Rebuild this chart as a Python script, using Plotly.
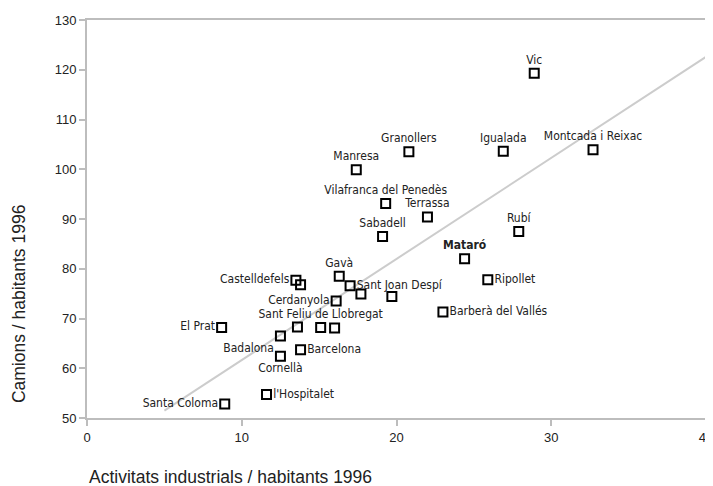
import plotly.graph_objects as go

# towns: activitats industrials / habitants vs camions / habitants (1996)
towns = ["Vic", "Granollers", "Igualada", "Montcada i Reixac", "Manresa",
         "Vilafranca del Penedès", "Terrassa", "Sabadell", "Rubí", "Mataró",
         "Ripollet", "Barberà del Vallés", "Sant Joan Despí", "Gavà",
         "Castelldefels", "", "Cerdanyola", "", "", "El Prat",
         "", "Sant Feliu de Llobregat", "", "Badalona", "Barcelona",
         "Cornellà", "Santa Coloma", "l'Hospitalet"]
activitats = [28.9, 20.8, 26.9, 32.7, 17.4,
              19.3, 22.0, 19.1, 27.9, 24.4,
              25.9, 23.0, 17.0, 16.3,
              13.5, 13.8, 16.1, 17.7, 19.7, 8.7,
              13.6, 15.1, 16.0, 12.5, 13.8,
              12.5, 8.9, 11.6]
camions = [119.3, 103.5, 103.6, 103.9, 99.9,
           93.1, 90.4, 86.5, 87.5, 82.0,
           77.8, 71.3, 76.6, 78.5,
           77.7, 76.8, 73.5, 74.9, 74.4, 68.2,
           68.3, 68.2, 68.1, 66.5, 63.7,
           62.4, 52.8, 54.7]
label_pos = ["top center", "top center", "top center", "top center", "top center",
             "top center", "top center", "top center", "top center", "top center",
             "middle right", "middle right", "middle right", "top center",
             "middle left", "top center", "middle left", "top center", "top center", "middle left",
             "top center", "top center", "top center", "bottom left", "middle right",
             "bottom center", "middle left", "middle right"]

# tendency line
trend_x = [5, 40]
trend_y = [51.5, 122.6]

labels = ["<b>%s</b>" % t if t == "Mataró" else t for t in towns]

label_font = "DejaVu Sans Condensed, Liberation Sans, sans-serif"
axis_grey = "#bdbdbd"

fig = go.Figure()

fig.add_trace(go.Scatter(
    x=trend_x, y=trend_y, mode="lines",
    line=dict(color="#cccccc", width=2),
    showlegend=False, hoverinfo="skip",
))

fig.add_trace(go.Scatter(
    x=activitats, y=camions, mode="markers+text",
    text=labels, textposition=label_pos,
    textfont=dict(family=label_font, size=12, color="#222222"),
    marker=dict(symbol="square-open", size=9, color="black",
                line=dict(width=2, color="black")),
    showlegend=False, cliponaxis=False,
))

# page body has an 8px margin, so the figure is 8px short of the window
fig.update_layout(
    width=705, height=478,
    margin=dict(l=79, r=7, t=12, b=68),
    plot_bgcolor="white",
    paper_bgcolor="white",
    font=dict(family="Liberation Sans, Arial, sans-serif", size=13, color="#222222"),
    xaxis=dict(range=[0, 40], dtick=10, showgrid=False, zeroline=False,
               showline=True, linecolor=axis_grey, linewidth=2, mirror=True,
               ticks="outside", ticklen=6, tickcolor=axis_grey, tickwidth=2,
               automargin=False, ticklabeloverflow="allow"),
    yaxis=dict(range=[50, 130], dtick=10, showgrid=False, zeroline=False,
               showline=True, linecolor=axis_grey, linewidth=2, mirror=True,
               ticks="outside", ticklen=6, tickcolor=axis_grey, tickwidth=2,
               automargin=False),
    annotations=[
        dict(text="Camions / habitants 1996", xref="paper", yref="paper",
             x=-0.11, y=0.286, xanchor="center", yanchor="middle",
             textangle=-90, showarrow=False,
             font=dict(family="Liberation Sans, Arial, sans-serif", size=17.5)),
        dict(text="Activitats industrials / habitants 1996", xref="paper", yref="paper",
             x=0.0, y=-0.148, xanchor="left", yanchor="middle", showarrow=False,
             font=dict(family="Liberation Sans, Arial, sans-serif", size=17.5)),
    ],
)

fig.write_html("out.html")
